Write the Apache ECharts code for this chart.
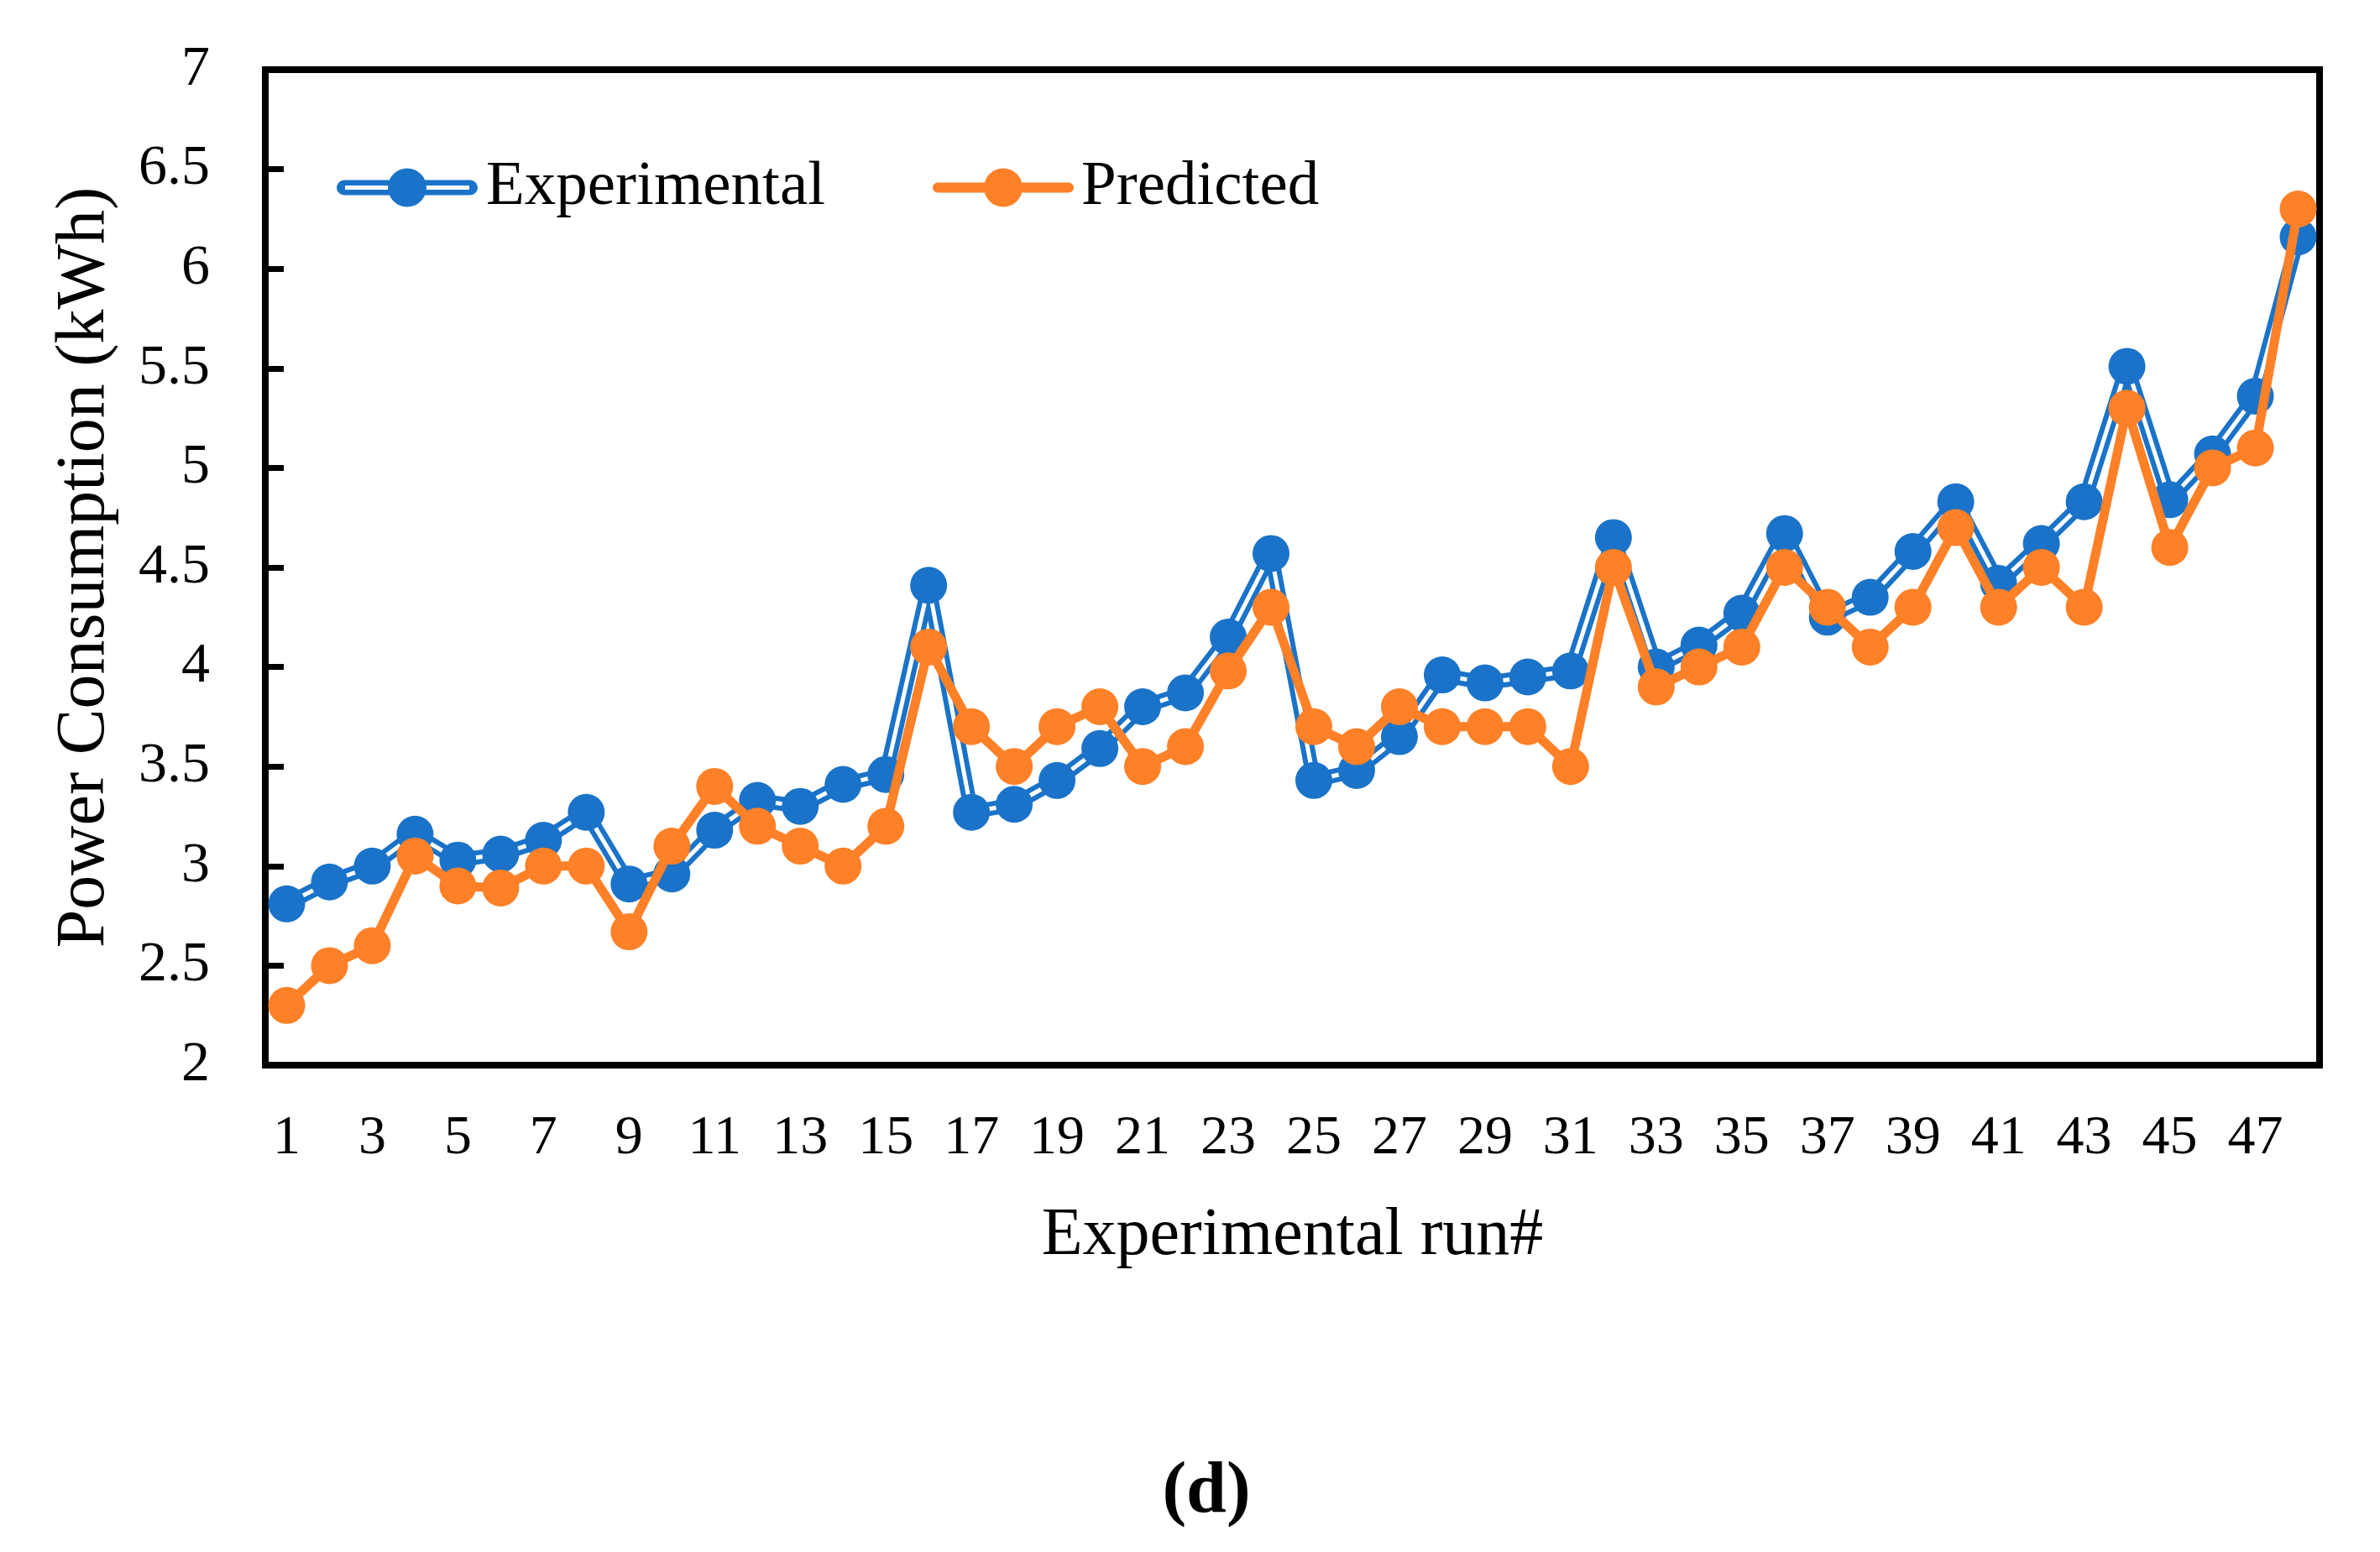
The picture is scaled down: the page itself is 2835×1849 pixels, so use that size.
<!DOCTYPE html>
<html>
<head>
<meta charset="utf-8">
<script src="https://cdn.jsdelivr.net/npm/echarts@6/dist/echarts.min.js"></script>
<style>
html,body{margin:0;padding:0;background:#fff;}
#chart{width:2835px;height:1849px;}
</style>
</head>
<body>
<div id="chart"></div>
<script>
const runs = Array.from({length: 48}, (_, i) => String(i + 1));
const experimental = [2.81, 2.92, 3.00, 3.16, 3.03, 3.06, 3.13, 3.27, 2.91, 2.96,
  3.18, 3.33, 3.30, 3.41, 3.46, 4.41, 3.27, 3.31, 3.43, 3.59,
  3.80, 3.87, 4.15, 4.57, 3.43, 3.48, 3.65, 3.96, 3.92, 3.95,
  3.98, 4.65, 4.00, 4.11, 4.27, 4.67, 4.25, 4.35, 4.58, 4.83,
  4.42, 4.62, 4.83, 5.51, 4.84, 5.07, 5.36, 6.16];
const predicted = [2.30, 2.50, 2.60, 3.05, 2.90, 2.89, 3.00, 3.00, 2.67, 3.10,
  3.40, 3.20, 3.10, 3.00, 3.20, 4.10, 3.70, 3.50, 3.70, 3.80,
  3.50, 3.60, 3.98, 4.30, 3.70, 3.60, 3.80, 3.70, 3.70, 3.70,
  3.50, 4.50, 3.90, 4.00, 4.10, 4.50, 4.30, 4.10, 4.30, 4.70,
  4.30, 4.50, 4.30, 5.30, 4.60, 5.00, 5.10, 6.30];
const yTicks = {min: 2, max: 7, interval: 0.5};

const BLUE = '#1A73C8';
const ORANGE = '#FE8027';
const FONT = '"Liberation Serif", "Times New Roman", serif';

const expIcon = 'path://M9,14 H159 A9,9 0 0 1 159,32 H9 A9,9 0 0 1 9,14 Z ' +
  'M10,20.5 V25.5 H158 V20.5 Z ' +
  'M61,23 A23,23 0 1 1 107,23 A23,23 0 1 1 61,23 Z';
const predIcon = 'path://M6,17 H162 A6,6 0 0 1 162,29 H6 A6,6 0 0 1 6,17 Z ' +
  'M61,23 A23,23 0 1 1 107,23 A23,23 0 1 1 61,23 Z';

const chart = echarts.init(document.getElementById('chart'), null, {renderer: 'canvas'});
chart.setOption({
  animation: false,
  backgroundColor: '#fff',
  grid: {
    left: 316, right: 72, top: 83, bottom: 580,
    show: true, borderColor: '#000', borderWidth: 8, backgroundColor: 'transparent'
  },
  legend: [{
    data: [{name: 'Experimental', icon: expIcon}],
    left: 396, top: 181, itemWidth: 168, itemHeight: 46,
    textStyle: {fontFamily: FONT, fontSize: 75, color: '#000', padding: [0, 0, 0, 5]},
    selectedMode: false
  }, {
    data: [{name: 'Predicted', icon: predIcon}],
    left: 1106, top: 181, itemWidth: 168, itemHeight: 46,
    textStyle: {fontFamily: FONT, fontSize: 75, color: '#000', padding: [0, 0, 0, 4]},
    selectedMode: false
  }],
  xAxis: {
    type: 'category',
    data: runs,
    boundaryGap: true,
    name: 'Experimental run#',
    nameLocation: 'middle',
    nameGap: 164,
    nameTextStyle: {fontFamily: FONT, fontSize: 80, color: '#000'},
    axisLine: {show: false},
    axisTick: {show: false},
    axisLabel: {interval: 1, margin: 55, fontFamily: FONT, fontSize: 66, color: '#000'},
    splitLine: {show: false}
  },
  yAxis: {
    type: 'value',
    min: yTicks.min, max: yTicks.max, interval: yTicks.interval,
    name: 'Power Consumption (kWh)',
    nameLocation: 'middle',
    nameGap: 174,
    nameTextStyle: {fontFamily: FONT, fontSize: 82, color: '#000'},
    axisLine: {show: false},
    axisTick: {show: true, inside: true, length: 22, lineStyle: {color: '#000', width: 7}},
    axisLabel: {margin: 66, fontFamily: FONT, fontSize: 68, color: '#000'},
    splitLine: {show: false}
  },
  graphic: [{
    type: 'text', x: 1437, y: 1779, z: 10,
    style: {
      text: '(d)', fontFamily: FONT, fontSize: 86, fontWeight: 'bold', fill: '#000',
      align: 'center', verticalAlign: 'middle',
      textAlign: 'center', textVerticalAlign: 'middle'
    }
  }],
  series: [{
    name: 'ExpOuter', type: 'line', data: experimental, symbol: 'none', z: 2,
    lineStyle: {color: BLUE, width: 17, join: 'round'}, silent: true,
    emphasis: {disabled: true}
  }, {
    name: 'ExpInner', type: 'line', data: experimental, symbol: 'none', z: 3,
    lineStyle: {color: '#ffffff', width: 5}, silent: true,
    emphasis: {disabled: true}
  }, {
    name: 'Experimental', type: 'line', data: experimental, z: 4,
    symbol: 'circle', symbolSize: 44, showAllSymbol: true,
    itemStyle: {color: BLUE, borderWidth: 0},
    lineStyle: {width: 0, opacity: 0},
    emphasis: {disabled: true}
  }, {
    name: 'Predicted', type: 'line', data: predicted, z: 5,
    symbol: 'circle', symbolSize: 44, showAllSymbol: true,
    itemStyle: {color: ORANGE, borderWidth: 0},
    lineStyle: {color: ORANGE, width: 11, join: 'round'},
    emphasis: {disabled: true}
  }]
});
</script>
</body>
</html>
